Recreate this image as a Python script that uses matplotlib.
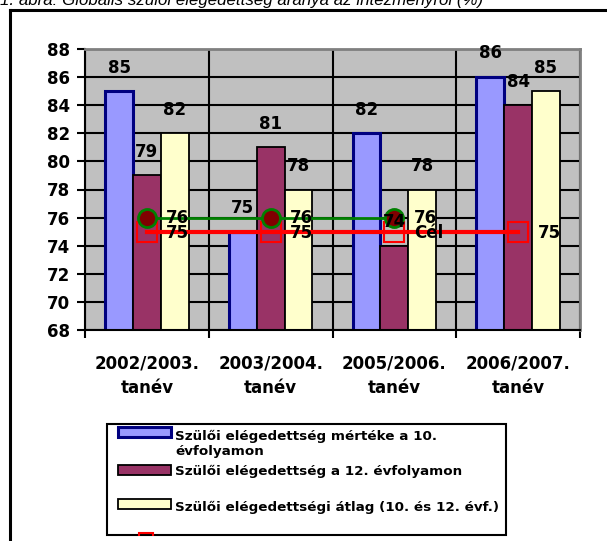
import matplotlib
matplotlib.use('Agg')
import matplotlib.pyplot as plt
from matplotlib.patches import Rectangle
from matplotlib.lines import Line2D
import numpy as np

categories = ['2002/2003.\ntanév', '2003/2004.\ntanév', '2005/2006.\ntanév', '2006/2007.\ntanév']
grade10 = [85, 75, 82, 86]
grade12 = [79, 81, 74, 84]
average = [82, 78, 78, 85]
previous = [76, 76, 76, np.nan]
target = [75, 75, 75, 75]
target_labels = ['75', '75', 'Cél', '75']
legend_labels = ['Szülői elégedettség mértéke a 10.\névfolyamon',
                 'Szülői elégedettség a 12. évfolyamon',
                 'Szülői elégedettségi átlag (10. és 12. évf.)',
                 'Cél']
title = '1. ábra: Globális szülői elégedettség aránya az intézményről (%)'

W, H = 607, 541


def fx(x):
    return x / W


def fy(y):
    return 1 - y / H


def main():
    plt.rcParams['font.family'] = ['DejaVu Sans']
    plt.rcParams['font.weight'] = 'bold'

    fig = plt.figure(figsize=(W / 100, H / 100), dpi=100)
    fig.patch.set_facecolor('white')

    ax = fig.add_axes([fx(85), fy(330), (580 - 85) / W, (330 - 49) / H])
    ax.set_facecolor('#C0C0C0')
    ax.set_axisbelow(True)

    x = np.arange(len(categories))
    w = 0.225
    b1 = ax.bar(x - w, grade10, w, color='#9999FF', edgecolor='#000080', linewidth=2.2)
    b2 = ax.bar(x, grade12, w, color='#993366', edgecolor='black', linewidth=1.3)
    b3 = ax.bar(x + w, average, w, color='#FFFFCC', edgecolor='black', linewidth=1.3)
    for bars, vals in [(b1, grade10), (b2, grade12), (b3, average)]:
        for rect, v in zip(bars, vals):
            ax.annotate(str(v), (rect.get_x() + rect.get_width() / 2, v),
                        xytext=(0, 17), textcoords='offset points',
                        ha='center', va='center', fontsize=12, zorder=6)

    ax.plot(x, target, color='red', lw=3, marker='s', ms=14, mfc='none',
            mec='red', mew=1.5, zorder=4)
    ax.plot(x, previous, color='green', lw=2, marker='o', ms=13,
            mfc='#800000', mec='green', mew=2, zorder=5)
    for xi, v, lab in zip(x, target, target_labels):
        ax.annotate(lab, (xi, v), xytext=(14, -1), textcoords='offset points',
                    ha='left', va='center', fontsize=12, zorder=6)
    for xi, v in zip(x, previous):
        if not np.isnan(v):
            ax.annotate(str(int(v)), (xi, v), xytext=(14, 0), textcoords='offset points',
                        ha='left', va='center', fontsize=12, zorder=6)

    ax.set_ylim(68, 88)
    ax.set_xlim(-0.5, len(categories) - 0.5)
    ax.set_yticks(range(68, 89, 2))
    ax.yaxis.grid(True, color='black', lw=1.5)
    ax.set_xticks(np.arange(-0.5, len(categories), 1.0))
    ax.set_xticklabels([])
    ax.xaxis.grid(True, which='major', color='black', lw=1.5)
    ax.set_xticks(x, minor=True)
    ax.set_xticklabels(categories, minor=True, fontsize=12, linespacing=1.4)
    ax.tick_params(axis='x', which='minor', length=0, pad=18)
    ax.tick_params(axis='x', which='major', length=6, width=1.5, direction='out')
    ax.tick_params(axis='y', length=6, width=1.5, direction='out', labelsize=12, pad=5)

    for s in ['left', 'bottom']:
        ax.spines[s].set_color('black')
        ax.spines[s].set_linewidth(1.5)
    for s in ['top', 'right']:
        ax.spines[s].set_color('#808080')
        ax.spines[s].set_linewidth(2)

    # outer frame and cut-off title
    fig.add_artist(Line2D([fx(10), 1], [fy(10), fy(10)], color='black', lw=2.2))
    fig.add_artist(Line2D([fx(10), fx(10)], [fy(10), 0], color='black', lw=2.2))
    fig.text(fx(0), fy(4.5), title, family='Liberation Sans', style='italic',
             fontweight='normal', fontsize=12.2, ha='left', va='baseline')

    # legend, cut at the bottom like the original
    box = Rectangle((fx(107), fy(535)), (506 - 107) / W, (535 - 424) / H,
                    transform=fig.transFigure, fc='white', ec='black', lw=1.5, zorder=2)
    fig.add_artist(box)
    keys = [('#9999FF', '#000080', 2.2, 432), ('#993366', 'black', 1.3, 470),
            ('#FFFFCC', 'black', 1.3, 504)]
    for fc, ec, lw, yc in keys:
        fig.add_artist(Rectangle((fx(118), fy(yc + 5)), 53 / W, 10 / H,
                                 transform=fig.transFigure, fc=fc, ec=ec, lw=lw, zorder=3))
    fig.text(fx(175), fy(444), legend_labels[0], fontsize=9.7, va='center',
             linespacing=1.15, zorder=3)
    fig.text(fx(175), fy(471), legend_labels[1], fontsize=9.7, va='center', zorder=3)
    fig.text(fx(175), fy(507), legend_labels[2], fontsize=9.7, va='center', zorder=3)
    cel_key = Line2D([fx(118), fx(171)], [fy(540), fy(540)], color='red', lw=3, zorder=3)
    cel_mark = Line2D([fx(145.5)], [fy(540)], marker='s', ms=9.5, mfc='none',
                      mec='red', mew=1.5, zorder=3)
    cel_text = fig.text(fx(180), fy(541), legend_labels[3], fontsize=9.7, va='center', zorder=3)
    for art in (cel_key, cel_mark):
        fig.add_artist(art)
    for art in (cel_key, cel_mark, cel_text):
        art.set_clip_path(box)

    fig.savefig('out.png', dpi=100)


if __name__ == '__main__':
    main()
